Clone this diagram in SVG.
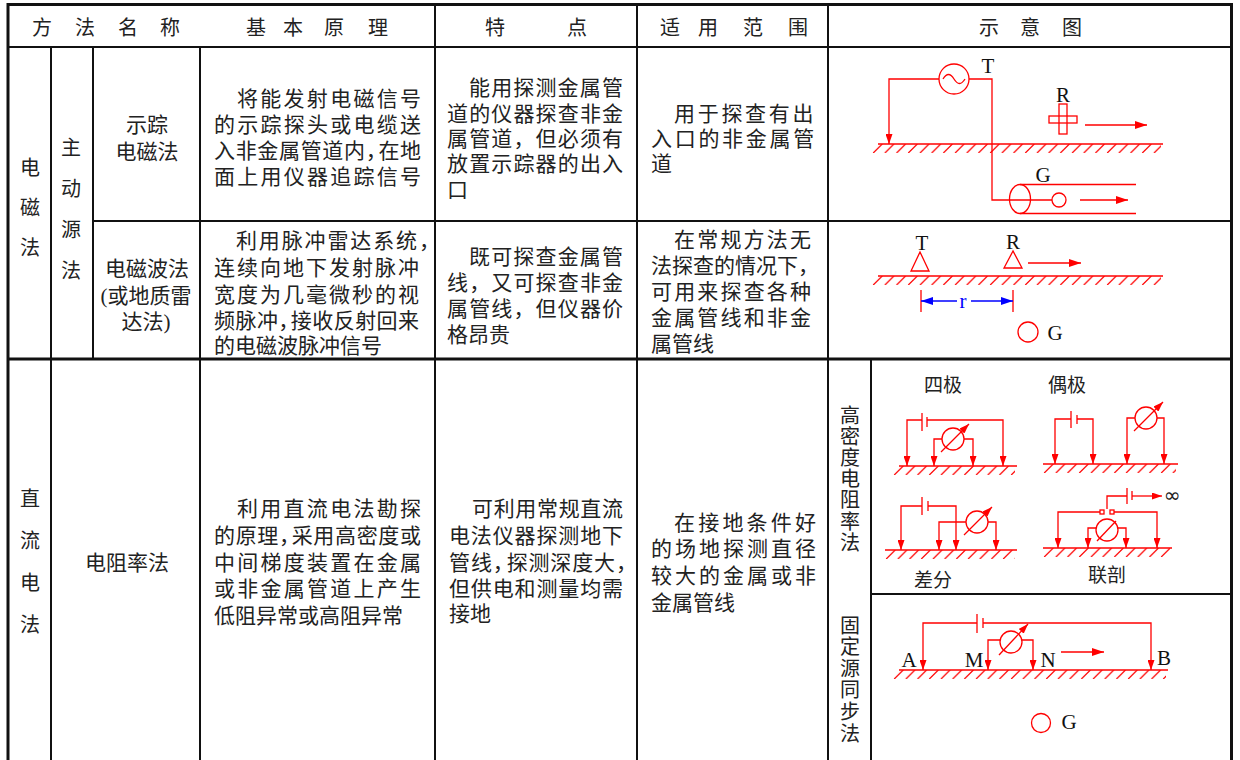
<svg xmlns="http://www.w3.org/2000/svg" width="1240" height="760" viewBox="0 0 1240 760">
<style>
.ln{stroke:#111;fill:none;stroke-width:2}
.ob{stroke:#111;fill:none;stroke-width:3}
.t{font-family:"Liberation Serif","Noto Sans CJK SC",sans-serif;font-size:21px;fill:#222}
.h{font-family:"Noto Sans CJK SC",sans-serif;font-size:20px;fill:#222;text-anchor:middle}
.c{text-anchor:middle}
.r{stroke:#f00;stroke-width:1.3;fill:none}
.lb{font-family:"Liberation Serif",serif;font-size:21px;fill:#111;text-anchor:middle}
.zh{font-family:"Noto Sans CJK SC",sans-serif;font-size:19px;fill:#222;text-anchor:middle}
.v{font-family:"Noto Sans CJK SC",sans-serif;font-size:20px;fill:#222;writing-mode:vertical-rl}
</style>
<defs>
<marker id="ah" viewBox="0 0 12 8" refX="12" refY="4" markerWidth="12" markerHeight="8" markerUnits="userSpaceOnUse" orient="auto"><path d="M0,0L12,4L0,8z" fill="#f00"/></marker>
<marker id="ag" viewBox="0 0 10 7" refX="10" refY="3.5" markerWidth="10" markerHeight="7" markerUnits="userSpaceOnUse" orient="auto"><path d="M0,0L10,3.5L0,7z" fill="#f00"/></marker>
<marker id="ab" viewBox="0 0 12 8" refX="12" refY="4" markerWidth="12" markerHeight="8" markerUnits="userSpaceOnUse" orient="auto"><path d="M0,0L12,4L0,8z" fill="#00f"/></marker>
<pattern id="hatch" width="11.7" height="9" patternUnits="userSpaceOnUse"><path d="M10.2,0L1.2,9" stroke="#f00" stroke-width="1.2"/></pattern>
</defs>
<rect width="1240" height="760" fill="#fff"/>

<g id="table">
<path class="ln" d="M51,47V760M93,47V359M200,47V760M435,5V760M637,5V760M828,5V760M871,359V760"/>
<path class="ln" d="M7,47H1232M93,221H1232M871,594H1232"/>
<path class="ob" d="M7,359H1232"/>
<path class="ob" d="M8,760V4.5H1231.5V760"/>
</g>

<g id="header">
<text class="h" x="42" y="35">方</text><text class="h" x="85" y="35">法</text><text class="h" x="128" y="35">名</text><text class="h" x="170" y="35">称</text>
<text class="h" x="256" y="35">基</text><text class="h" x="293" y="35">本</text><text class="h" x="334" y="35">原</text><text class="h" x="378" y="35">理</text>
<text class="h" x="495" y="35">特</text><text class="h" x="577" y="35">点</text>
<text class="h" x="670" y="35">适</text><text class="h" x="708" y="35">用</text><text class="h" x="753" y="35">范</text><text class="h" x="798" y="35">围</text>
<text class="h" x="989" y="35">示</text><text class="h" x="1030" y="35">意</text><text class="h" x="1072" y="35">图</text>
</g>

<g id="group-em">
<text class="v" x="30" y="157" letter-spacing="20">电磁法</text>
<text class="v" x="71" y="137" letter-spacing="21">主动源法</text>
</g>

<g id="row-trace">
<text class="t c"><tspan x="147" y="132">示踪</tspan><tspan x="147" y="159">电磁法</tspan></text>
<text class="t"><tspan x="237" y="106" letter-spacing="2.29">将能发射电磁信号</tspan><tspan x="214" y="132" letter-spacing="2.25">的示踪探头或电缆送</tspan><tspan x="214" y="158" letter-spacing="0.67" dx="0 0 0 0 0 0 0 0 -9">入非金属管道内，在地</tspan><tspan x="214" y="184" letter-spacing="2.25">面上用仪器追踪信号</tspan></text>
<text class="t" letter-spacing="1.15"><tspan x="469" y="95">能用探测金属管</tspan><tspan x="447" y="121">道的仪器探查非金</tspan><tspan x="447" y="146">属管道，但必须有</tspan><tspan x="447" y="171">放置示踪器的出入</tspan><tspan x="447" y="197">口</tspan></text>
<text class="t" letter-spacing="2.7"><tspan x="674" y="121">用于探查有出</tspan><tspan x="651" y="146">入口的非金属管</tspan><tspan x="651" y="171">道</tspan></text>
</g>

<g id="row-radar">
<text class="t c"><tspan x="147" y="276">电磁波法</tspan><tspan x="146" y="303">(或地质雷</tspan><tspan x="146" y="329">达法)</tspan></text>
<text class="t"><tspan x="236" y="248" letter-spacing="1.86">利用脉冲雷达系统，</tspan><tspan x="214" y="275" letter-spacing="2">连续向地下发射脉冲</tspan><tspan x="214" y="302" letter-spacing="2">宽度为几毫微秒的视</tspan><tspan x="214" y="328" letter-spacing="0.44" dx="0 0 0 0 -9">频脉冲，接收反射回来</tspan><tspan x="214" y="353">的电磁波脉冲信号</tspan></text>
<text class="t"><tspan x="469" y="264" letter-spacing="1.17">既可探查金属管</tspan><tspan x="447" y="290" letter-spacing="1.15">线，又可探查非金</tspan><tspan x="447" y="316" letter-spacing="1.15">属管线，但仪器价</tspan><tspan x="447" y="342">格昂贵</tspan></text>
<text class="t"><tspan x="674" y="247" letter-spacing="2.2">在常规方法无</tspan><tspan x="651" y="273">法探查的情况下，</tspan><tspan x="651" y="299" letter-spacing="2.17">可用来探查各种</tspan><tspan x="651" y="325" letter-spacing="2.17">金属管线和非金</tspan><tspan x="651" y="351">属管线</tspan></text>
</g>

<g id="row-dc">
<text class="v" x="30" y="488" letter-spacing="22.3">直流电法</text>
<text class="t c" x="127" y="570">电阻率法</text>
<text class="t"><tspan x="237" y="516" letter-spacing="2.29">利用直流电法勘探</tspan><tspan x="214" y="543" letter-spacing="0.67" dx="0 0 0 0 -9">的原理，采用高密度或</tspan><tspan x="214" y="570" letter-spacing="2.25">中间梯度装置在金属</tspan><tspan x="214" y="596" letter-spacing="2.25">或非金属管道上产生</tspan><tspan x="214" y="623">低阻异常或高阻异常</tspan></text>
<text class="t"><tspan x="472" y="516" letter-spacing="0.67">可利用常规直流</tspan><tspan x="449" y="543" letter-spacing="0.86">电法仪器探测地下</tspan><tspan x="449" y="570" letter-spacing="0.86" dx="0 0 0 -8">管线，探测深度大，</tspan><tspan x="449" y="596" letter-spacing="0.86">但供电和测量均需</tspan><tspan x="449" y="621">接地</tspan></text>
<text class="t"><tspan x="674" y="530" letter-spacing="3.2">在接地条件好</tspan><tspan x="651" y="556" letter-spacing="3">的场地探测直径</tspan><tspan x="651" y="583" letter-spacing="3">较大的金属或非</tspan><tspan x="651" y="610">金属管线</tspan></text>
<text class="v" x="850" y="405" letter-spacing="1.2">高密度电阻率法</text>
<text class="v" x="850" y="615" letter-spacing="1.6">固定源同步法</text>
</g>

<g id="grounds">
<g transform="translate(872,144)"><path class="r" d="M6,0H291"/><rect width="289" height="9" fill="url(#hatch)"/></g>
<g transform="translate(872,276)"><path class="r" d="M6,0H291"/><rect width="289" height="9" fill="url(#hatch)"/></g>
<g transform="translate(893,466)"><path class="r" d="M6,0H124"/><rect width="122" height="9" fill="url(#hatch)"/></g>
<g transform="translate(1043,464)"><path class="r" d="M0,0H135"/><rect width="133" height="9" fill="url(#hatch)"/></g>
<g transform="translate(885,550)"><path class="r" d="M0,0H132" stroke-width="2"/><rect width="130" height="9" fill="url(#hatch)"/></g>
<g transform="translate(1043,548)"><path class="r" d="M0,0H129"/><rect width="127" height="9" fill="url(#hatch)"/></g>
<g transform="translate(893,670)"><path class="r" d="M6,0H275"/><rect width="273" height="9" fill="url(#hatch)"/></g>
</g>

<g id="diagram-trace">
<circle class="r" cx="954" cy="79" r="15"/>
<path class="r" d="M943,79Q948.5,70 954,79T965,79"/>
<text class="lb" x="988" y="73">T</text>
<path class="r" d="M939,79H889V144" marker-end="url(#ag)"/>
<path class="r" d="M969,79H992V200H1052"/>
<rect class="r" x="1049" y="116" width="28" height="7"/>
<rect class="r" x="1059" y="104" width="8" height="30"/>
<text class="lb" x="1063" y="102">R</text>
<path class="r" d="M1085,125H1147" marker-end="url(#ah)"/>
<ellipse class="r" cx="1020" cy="199" rx="10.5" ry="14.5"/>
<path class="r" d="M1020,184.5H1136M1020,213.5H1136"/>
<circle class="r" cx="1059" cy="200" r="7"/>
<text class="lb" x="1043" y="182">G</text>
<path class="r" d="M1080,200H1128" marker-end="url(#ah)"/>
</g>

<g id="diagram-radar">
<path class="r" d="M920,252L911,271H929Z"/>
<text class="lb" x="922" y="250">T</text>
<path class="r" d="M1013,251L1004,268H1022Z"/>
<text class="lb" x="1013" y="249">R</text>
<path class="r" d="M1028,263H1081" marker-end="url(#ah)"/>
<path class="r" d="M921,290V312M1013,290V312"/>
<path d="M957,301H921" stroke="#00f" stroke-width="1.3" marker-end="url(#ab)"/>
<path d="M971,301H1013" stroke="#00f" stroke-width="1.3" marker-end="url(#ab)"/>
<text x="963" y="308" font-family="Liberation Serif, serif" font-size="21" fill="#00f" text-anchor="middle">r</text>
<circle class="r" cx="1028" cy="332" r="10"/>
<text class="lb" x="1055" y="340">G</text>
</g>

<g id="diagram-quad">
<text class="zh" x="943" y="392">四极</text>
<path class="r" d="M922,413V431"/>
<path class="r" d="M927,417V427" stroke-width="2.2"/>
<path class="r" d="M922,420H907V466" marker-end="url(#ag)"/>
<path class="r" d="M927,420H1003V466" marker-end="url(#ag)"/>
<circle class="r" cx="953" cy="439" r="11"/>
<path class="r" d="M942,439H934V466" marker-end="url(#ag)"/>
<path class="r" d="M964,439H973V466" marker-end="url(#ag)"/>
<path class="r" d="M941,452L969,424" marker-end="url(#ag)"/>
</g>

<g id="diagram-dipole">
<text class="zh" x="1067" y="392">偶极</text>
<path class="r" d="M1071,411V428"/>
<path class="r" d="M1077,415V424" stroke-width="2.2"/>
<path class="r" d="M1071,419H1055V464" marker-end="url(#ag)"/>
<path class="r" d="M1077,419H1093V464" marker-end="url(#ag)"/>
<circle class="r" cx="1146" cy="418" r="11"/>
<path class="r" d="M1135,418H1127V464" marker-end="url(#ag)"/>
<path class="r" d="M1157,418H1164V464" marker-end="url(#ag)"/>
<path class="r" d="M1134,431L1163,402" marker-end="url(#ag)"/>
</g>

<g id="diagram-diff">
<text class="zh" x="933" y="587">差分</text>
<path class="r" d="M922,497V515"/>
<path class="r" d="M928,501V511" stroke-width="2.2"/>
<path class="r" d="M922,506H901V550" marker-end="url(#ag)"/>
<path class="r" d="M928,506H956V550" marker-end="url(#ag)"/>
<circle class="r" cx="977" cy="522" r="11"/>
<path class="r" d="M966,522H939V550" marker-end="url(#ag)"/>
<path class="r" d="M988,522H996V550" marker-end="url(#ag)"/>
<path class="r" d="M964,535L992,507" marker-end="url(#ag)"/>
</g>

<g id="diagram-profile">
<text class="zh" x="1107" y="582">联剖</text>
<path class="r" d="M1127,488V504"/>
<path class="r" d="M1132,491V500" stroke-width="2.2"/>
<path class="r" d="M1127,496H1107V509"/>
<path class="r" d="M1132,496H1162" marker-end="url(#ag)"/>
<text x="1172" y="502" font-family="DejaVu Sans, sans-serif" font-size="20" fill="#222" text-anchor="middle">∞</text>
<rect class="r" x="1100" y="510" width="4" height="4" stroke-width="1.2"/>
<rect class="r" x="1110" y="510" width="4" height="4" stroke-width="1.2"/>
<path class="r" d="M1100,512H1058V548" marker-end="url(#ag)"/>
<path class="r" d="M1114,512H1157V548" marker-end="url(#ag)"/>
<circle class="r" cx="1107" cy="530" r="11"/>
<path class="r" d="M1096,528H1088V548" marker-end="url(#ag)"/>
<path class="r" d="M1118,528H1126V548" marker-end="url(#ag)"/>
<path class="r" d="M1097,541L1116,521"/>
</g>

<g id="diagram-fixed">
<path class="r" d="M977,614V633"/>
<path class="r" d="M983,618V628" stroke-width="2.2"/>
<path class="r" d="M977,623H923V670" marker-end="url(#ag)"/>
<path class="r" d="M983,623H1151V670" marker-end="url(#ag)"/>
<circle class="r" cx="1011" cy="642" r="11"/>
<path class="r" d="M1000,640H988V670" marker-end="url(#ag)"/>
<path class="r" d="M1022,640H1033V670" marker-end="url(#ag)"/>
<path class="r" d="M999,655L1028,624" marker-end="url(#ag)"/>
<text class="lb" x="909" y="667">A</text>
<text class="lb" x="974" y="667">M</text>
<text class="lb" x="1048" y="667">N</text>
<text class="lb" x="1164" y="665">B</text>
<path class="r" d="M1061,652H1104" marker-end="url(#ah)"/>
<circle class="r" cx="1041" cy="723" r="9.5"/>
<text class="lb" x="1069" y="729">G</text>
</g>
</svg>
